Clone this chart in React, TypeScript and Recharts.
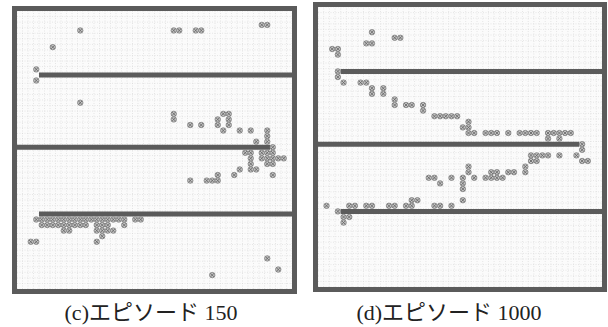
import React from "react";
import { ScatterChart, Scatter, XAxis, YAxis, ReferenceLine } from "recharts";

// Maze: 50 x 50 cells; walls are rows of cells
const gridTicks = Array.from({ length: 51 }, (_, i) => i);
const wallRows = [11, 24, 36];
const wallStartCols = [4, 0, 4];
const wallEndCols = [50, 46, 50];

// visited cells [column, row] (row counted from top)
const ep150Cells: [number, number][] = [
  [44, 2], [45, 2],
  [11, 3], [28, 3], [29, 3], [32, 3], [33, 3],
  [6, 6], [3, 10], [3, 12], [11, 16],
  [28, 18], [37, 18], [38, 18],
  [28, 19], [36, 19], [38, 19],
  [31, 20], [33, 20], [36, 20], [38, 20],
  [37, 21], [40, 21], [42, 21], [45, 21],
  [45, 22], [43, 23], [45, 23], [46, 24],
  [41, 25], [42, 25], [44, 25], [45, 25], [46, 25],
  [42, 26], [44, 26], [45, 26], [46, 26], [47, 26], [48, 26],
  [42, 27], [45, 27], [46, 27],
  [40, 28], [42, 28], [43, 28],
  [36, 29], [39, 29], [46, 29],
  [31, 30], [34, 30], [35, 30], [36, 30],
  [3, 37], [4, 37], [5, 37], [6, 37], [7, 37], [8, 37], [9, 37], [10, 37], [11, 37],
  [12, 37], [13, 37], [14, 37], [15, 37], [16, 37], [17, 37], [18, 37], [19, 37], [21, 37], [22, 37],
  [4, 38], [5, 38], [6, 38], [7, 38], [8, 38], [9, 38], [10, 38], [11, 38], [12, 38],
  [14, 38], [15, 38], [16, 38], [19, 38],
  [8, 39], [9, 39], [14, 39], [15, 39], [16, 39], [17, 39],
  [15, 40], [2, 41], [3, 41], [14, 41],
  [45, 44], [47, 46], [35, 47],
];

const ep1000Cells: [number, number][] = [
  [9, 4], [13, 5], [14, 5], [8, 6], [9, 6], [2, 7], [3, 7], [3, 8],
  [3, 11], [3, 12],
  [4, 13], [7, 13], [8, 13],
  [9, 14], [11, 14], [9, 15], [11, 15], [13, 16],
  [13, 17], [15, 17], [16, 17], [18, 17], [18, 18],
  [20, 19], [21, 19], [22, 19], [23, 19], [24, 19],
  [26, 20], [25, 21], [26, 21],
  [26, 22], [27, 22], [29, 22], [30, 22], [31, 22], [33, 22], [35, 22], [36, 22], [37, 22], [38, 22],
  [40, 22], [41, 22], [42, 22], [43, 22], [44, 22],
  [40, 23], [42, 23], [46, 24], [46, 25],
  [37, 26], [38, 26], [39, 26], [40, 26], [42, 26], [45, 26],
  [37, 27], [38, 27], [46, 27], [47, 27],
  [26, 28], [36, 28],
  [26, 29], [30, 29], [31, 29], [33, 29], [34, 29], [36, 29],
  [19, 30], [20, 30], [23, 30], [25, 30], [27, 30], [29, 30], [30, 30], [31, 30], [32, 30],
  [21, 31], [25, 31], [25, 32],
  [16, 34], [17, 34], [25, 34],
  [1, 35], [5, 35], [6, 35], [8, 35], [9, 35], [12, 35], [13, 35], [15, 35], [16, 35], [20, 35], [21, 35], [23, 35],
  [3, 36], [4, 37], [5, 37], [4, 38],
];

const WALL = "#5b5b5b";
const GRID = "#d6d6d6";

const Mark = (props: any) => {
  const { cx, cy } = props;
  if (cx == null || cy == null) return null;
  const d = 1.8;
  return (
    <g>
      <circle cx={cx} cy={cy} r={2.7} fill="#c4c4c4" stroke="#7a7a7a" strokeWidth={0.8} />
      <path
        d={`M${cx - d},${cy - d}L${cx + d},${cy + d}M${cx + d},${cy - d}L${cx - d},${cy + d}`}
        stroke="#606060"
        strokeWidth={0.8}
      />
    </g>
  );
};

type PanelProps = {
  cells: [number, number][];
  left: number;
  top: number;
  width: number;
  height: number;
  border: number;
};

const Panel = ({ cells, left, top, width, height, border }: PanelProps) => {
  const data = cells.map(([c, r]) => ({ x: c + 0.5, y: r + 0.5 }));
  const innerW = width - 2 * border;
  const innerH = height - 2 * border;
  return (
    <div
      style={{
        position: "absolute",
        left,
        top,
        width,
        height,
        boxSizing: "border-box",
        border: `${border}px solid ${WALL}`,
        background: "#fbfbfb",
      }}
    >
      <ScatterChart width={innerW} height={innerH} margin={{ top: 0, right: 0, bottom: 0, left: 0 }}>
        <XAxis
          type="number"
          dataKey="x"
          domain={[0, 50]}
          ticks={gridTicks}
          tick={false}
          tickLine={false}
          axisLine={false}
          height={0}
          allowDataOverflow
        />
        <YAxis
          type="number"
          dataKey="y"
          domain={[0, 50]}
          ticks={gridTicks}
          reversed
          tick={false}
          tickLine={false}
          axisLine={false}
          width={0}
          allowDataOverflow
        />
        {gridTicks.map((t) => (
          <ReferenceLine key={`gx${t}`} x={t} stroke={GRID} strokeWidth={0.6} strokeDasharray="1 1.5" ifOverflow="visible" />
        ))}
        {gridTicks.map((t) => (
          <ReferenceLine key={`gy${t}`} y={t} stroke={GRID} strokeWidth={0.6} strokeDasharray="1 1.5" ifOverflow="visible" />
        ))}
        {wallRows.map((r, i) => (
          <ReferenceLine
            key={`w${i}`}
            segment={[
              { x: wallStartCols[i], y: r + 0.5 },
              { x: wallEndCols[i], y: r + 0.5 },
            ]}
            stroke={WALL}
            strokeWidth={5}
            ifOverflow="visible"
          />
        ))}
        <Scatter data={data} shape={Mark} isAnimationActive={false} />
      </ScatterChart>
    </div>
  );
};

const captionStyle: React.CSSProperties = {
  position: "absolute",
  top: 294,
  fontFamily: '"Liberation Serif", "Noto Sans CJK JP", serif',
  fontSize: 22,
  color: "#222",
  whiteSpace: "nowrap",
  transform: "translateX(-50%)",
};

export default function App() {
  return (
    <div style={{ position: "absolute", left: 0, top: 0, width: 608, height: 327, background: "#fff", overflow: "hidden" }}>
      <Panel cells={ep150Cells} left={12} top={6} width={285} height={288} border={5} />
      <Panel cells={ep1000Cells} left={313} top={2} width={294} height={290} border={5} />
      <div style={{ ...captionStyle, left: 151 }}>(c)エピソード 150</div>
      <div style={{ ...captionStyle, left: 449 }}>(d)エピソード 1000</div>
    </div>
  );
}
